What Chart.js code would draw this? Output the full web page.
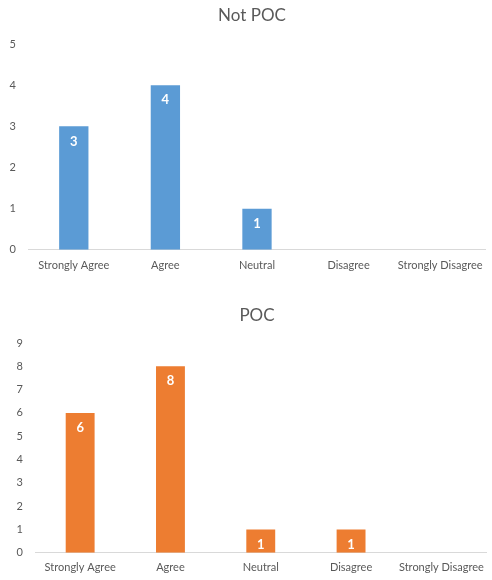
<!DOCTYPE html>
<html>
<head>
<meta charset="utf-8">
<script src="https://cdn.jsdelivr.net/npm/chart.js@4/dist/chart.umd.min.js"></script>
<style>
  body { margin: 0; background: #fff; }
  .box { position: absolute; left: 0; width: 492px; height: 290px; }
</style>
</head>
<body>
<div class="box" style="top:0"><canvas id="notPoc" width="492" height="290"></canvas></div>
<div class="box" style="top:290px"><canvas id="poc" width="492" height="290"></canvas></div>
<script>
const categories = ['Strongly Agree', 'Agree', 'Neutral', 'Disagree', 'Strongly Disagree'];
const notPocValues = [3, 4, 1, 0, 0];
const pocValues = [6, 8, 1, 1, 0];
const notPocMax = 5;
const pocMax = 9;

// white value labels inside the top of each bar
const barLabels = {
    id: 'barLabels',
    afterDatasetsDraw(chart) {
        const ctx = chart.ctx;
        const meta = chart.getDatasetMeta(0);
        const values = chart.data.datasets[0].data;
        ctx.save();
        ctx.fillStyle = '#ffffff';
        ctx.font = 'bold 13px Lato';
        ctx.textAlign = 'center';
        ctx.textBaseline = 'middle';
        meta.data.forEach(function(bar, i) {
            if (values[i] > 0) {
                ctx.fillText(values[i], bar.x, bar.y + 15);
            }
        });
        ctx.restore();
    }
};

// title centred a bit right of the canvas centre, like the excel chart
const chartTitle = {
    id: 'chartTitle',
    afterDraw(chart, args, opts) {
        const ctx = chart.ctx;
        ctx.save();
        ctx.fillStyle = '#595959';
        ctx.font = '17px Lato';
        ctx.textAlign = 'center';
        ctx.textBaseline = 'middle';
        ctx.fillText(opts.text, opts.x, opts.y);
        ctx.restore();
    }
};

function makeChart(id, title, values, color, max, yWidth, pad, xPad, tx, ty) {
    const ctx = document.getElementById(id).getContext('2d');
    return new Chart(ctx, {
        type: 'bar',
        data: {
            labels: categories,
            datasets: [{
                data: values,
                backgroundColor: color,
                barPercentage: 0.32,
                categoryPercentage: 1
            }]
        },
        options: {
            responsive: false,
            animation: false,
            layout: { padding: pad },
            plugins: {
                legend: { display: false },
                tooltip: { enabled: false },
                chartTitle: { text: title, x: tx, y: ty }
            },
            scales: {
                x: {
                    grid: { display: false, drawTicks: false },
                    border: { color: '#d9d9d9', width: 1 },
                    ticks: { color: '#595959', font: { family: 'Lato', size: 11 }, padding: xPad, maxRotation: 0, autoSkip: false }
                },
                y: {
                    min: 0,
                    max: max,
                    grid: { display: false, drawTicks: false },
                    border: { display: false },
                    ticks: { stepSize: 1, color: '#595959', font: { family: 'Lato', size: 11 }, padding: 12 },
                    afterFit(scale) { scale.width = yWidth; }
                }
            }
        },
        plugins: [barLabels, chartTitle]
    });
}

makeChart('notPoc', 'Not POC', notPocValues, '#5b9bd5', notPocMax, 28, { top: 44, right: 4, bottom: 9, left: 0 }, 9, 252, 16);
makeChart('poc', 'POC', pocValues, '#ed7d31', pocMax, 35, { top: 53, right: 2, bottom: -2, left: 0 }, 8, 257, 26);
</script>
</body>
</html>
